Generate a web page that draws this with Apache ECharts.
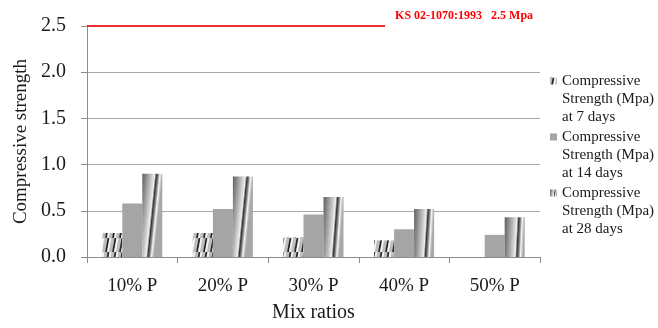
<!DOCTYPE html>
<html>
<head>
<meta charset="utf-8">
<script src="https://cdn.jsdelivr.net/npm/echarts@6/dist/echarts.min.js"></script>
<style>
  html, body { margin: 0; padding: 0; background: #fff; }
  #chart { width: 658px; height: 328px; }
</style>
</head>
<body>
<div id="chart"></div>
<script>
// Mix ratios on the x axis
const categories = ['10% P', '20% P', '30% P', '40% P', '50% P'];

// Compressive strength (MPa) by curing age
const strength7 = [0.26, 0.26, 0.21, 0.18, 0];
const strength14 = [0.58, 0.52, 0.46, 0.30, 0.24];
const strength28 = [0.90, 0.87, 0.65, 0.52, 0.43];

// Standard requirement line (KS 02-1070:1993)
const standardValue = 2.5;
const standardSpan = [0, 0.658];   // fraction of the plot width covered by the line
const standardLabel = 'KS 02-1070:1993   2.5 Mpa';

const seriesNames = [
  'Compressive\nStrength (Mpa)\nat 7 days',
  'Compressive\nStrength (Mpa)\nat 14 days',
  'Compressive\nStrength (Mpa)\nat 28 days'
];

const serif = 'Liberation Serif, Times New Roman, serif';

// Slanted stripe fill for the 7-day bars
function stripePattern() {
  const c = document.createElement('canvas');
  c.width = 7; c.height = 14;
  const g = c.getContext('2d');
  g.fillStyle = '#bdbdbd';
  g.fillRect(0, 0, 7, 14);
  g.lineWidth = 1.7;
  g.strokeStyle = '#262626';
  g.beginPath(); g.moveTo(1.0, 14); g.lineTo(3.5, 0); g.stroke();
  g.strokeStyle = '#f6f6f6';
  g.beginPath(); g.moveTo(3.0, 14); g.lineTo(5.5, 0); g.stroke();
  return { image: c, repeat: 'repeat' };
}

// Cylinder-like shading for the 28-day bars
const cylinderFill = {
  type: 'linear', x: 0, y: 0, x2: 1, y2: 0.025,
  colorStops: [
    { offset: 0, color: '#5e5e5e' },
    { offset: 0.40, color: '#b8b8b8' },
    { offset: 0.62, color: '#eeeeee' },
    { offset: 0.70, color: '#333333' },
    { offset: 0.80, color: '#8e8e8e' },
    { offset: 0.88, color: '#f6f6f6' },
    { offset: 1, color: '#a8a8a8' }
  ]
};

// Legend marker: a small square aligned with the first text line
const lineH = 18;
const markerIcon = 'path://M0,0L7,0L7,7L0,7Z M0,42.9L0.05,42.9L0.05,43L0,43Z';

const chart = echarts.init(document.getElementById('chart'), null, { renderer: 'canvas' });

chart.setOption({
  animation: false,
  backgroundColor: '#ffffff',
  grid: { left: 87, right: 118, top: 26, bottom: 64 },
  legend: {
    data: seriesNames,
    left: 550,
    top: 72,
    orient: 'vertical',
    padding: 0,
    itemWidth: 7,
    itemHeight: 2 * lineH + 7,
    itemGap: 2,
    icon: markerIcon,
    selectedMode: false,
    textStyle: {
      fontFamily: serif,
      fontSize: 15,
      color: '#1a1a1a',
      lineHeight: lineH
    }
  },
  xAxis: [
    {
      type: 'category',
      data: categories,
      name: 'Mix ratios',
      nameLocation: 'middle',
      nameGap: 46,
      nameTextStyle: { fontFamily: serif, fontSize: 20, color: '#1a1a1a' },
      axisLine: { lineStyle: { color: '#8c8c8c', width: 1 } },
      axisTick: { show: true, length: 6, lineStyle: { color: '#8c8c8c' } },
      axisLabel: { fontFamily: serif, fontSize: 19, color: '#1a1a1a', margin: 20 },
      splitLine: { show: false }
    },
    {
      type: 'value',
      min: 0,
      max: 1,
      show: false
    }
  ],
  yAxis: {
    type: 'value',
    min: 0,
    max: 2.5,
    interval: 0.5,
    name: 'Compressive strength',
    nameLocation: 'middle',
    nameGap: 54,
    nameTextStyle: { fontFamily: serif, fontSize: 19, color: '#1a1a1a' },
    axisLine: { show: true, lineStyle: { color: '#8c8c8c', width: 1 } },
    axisTick: { show: true, length: 6, lineStyle: { color: '#8c8c8c' } },
    axisLabel: {
      fontFamily: serif, fontSize: 20, color: '#1a1a1a', margin: 21,
      formatter: v => v.toFixed(1)
    },
    splitLine: { show: true, showMaxLine: false, lineStyle: { color: '#a8a8a8', width: 1.2 } }
  },
  series: [
    {
      name: seriesNames[0], type: 'bar', data: strength7,
      barWidth: 20, barGap: '0%',
      itemStyle: { color: stripePattern() }
    },
    {
      name: seriesNames[1], type: 'bar', data: strength14,
      barWidth: 20, barGap: '0%',
      itemStyle: { color: '#a5a5a5' }
    },
    {
      name: seriesNames[2], type: 'bar', data: strength28,
      barWidth: 20, barGap: '0%',
      itemStyle: { color: cylinderFill }
    },
    {
      name: 'standard', type: 'line',
      xAxisIndex: 1,
      data: standardSpan.map(x => [x, standardValue]),
      symbol: 'none',
      lineStyle: { color: '#f03030', width: 2 },
      silent: true,
      endLabel: {
        show: true,
        formatter: standardLabel,
        distance: 10,
        offset: [0, -10],
        fontFamily: serif,
        fontWeight: 'bold',
        fontSize: 12,
        color: '#ff0000'
      }
    }
  ]
});
</script>
</body>
</html>
